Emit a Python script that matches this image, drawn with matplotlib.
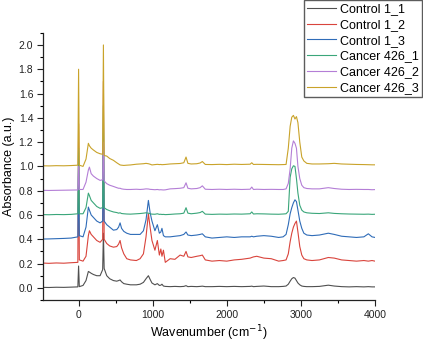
import matplotlib
matplotlib.use("Agg")
import matplotlib.pyplot as plt
from matplotlib.ticker import MultipleLocator, FormatStrFormatter

wavenumber = [-480, -400, -300, -200, -100, -10, 0, 10, 60, 100,
              132, 146, 170, 200, 245, 290, 325, 335, 345, 380,
              420, 470, 515, 540, 560, 580, 610, 650, 700, 780,
              830, 875, 910, 942, 965, 990, 1030, 1063, 1090, 1110,
              1125, 1145, 1170, 1235, 1300, 1370, 1420, 1450, 1475, 1520,
              1595, 1640, 1670, 1710, 1800, 1900, 2000, 2100, 2200, 2315,
              2337, 2360, 2405, 2500, 2600, 2700, 2760, 2800, 2830, 2855,
              2877, 2899, 2920, 2940, 2960, 2985, 3012, 3040, 3080, 3150,
              3250, 3370, 3450, 3550, 3650, 3750, 3850, 3910, 3960, 4000]

control_1_1 = [0.004, 0.003, 0.005, 0.004, 0.006, 0.008, 0.18, 0.01, 0.02, 0.06,
               0.135, 0.13, 0.12, 0.11, 0.10, 0.10, 0.15, 0.45, 0.16, 0.10,
               0.075, 0.06, 0.055, 0.06, 0.065, 0.05, 0.035, 0.03, 0.025, 0.025,
               0.03, 0.045, 0.075, 0.10, 0.07, 0.04, 0.025, 0.035, 0.02, 0.022,
               0.03, 0.015, 0.012, 0.01, 0.012, 0.01, 0.012, 0.018, 0.01, 0.012,
               0.01, 0.012, 0.014, 0.01, 0.01, 0.012, 0.01, 0.012, 0.01, 0.012,
               0.014, 0.01, 0.012, 0.015, 0.01, 0.01, 0.012, 0.015, 0.03, 0.055,
               0.075, 0.085, 0.08, 0.06, 0.04, 0.025, 0.015, 0.012, 0.01, 0.01,
               0.012, 0.022, 0.015, 0.01, 0.008, 0.01, 0.008, 0.01, 0.008, 0.008]

control_1_2 = [0.204, 0.202, 0.205, 0.203, 0.207, 0.21, 1.35, 0.23, 0.22, 0.26,
               0.43, 0.47, 0.44, 0.42, 0.39, 0.375, 0.40, 1.7, 0.40, 0.365,
               0.345, 0.335, 0.34, 0.36, 0.39, 0.33, 0.28, 0.24, 0.23, 0.225,
               0.24, 0.28, 0.42, 0.61, 0.50, 0.39, 0.31, 0.39, 0.27, 0.32,
               0.26, 0.31, 0.21, 0.24, 0.235, 0.27, 0.26, 0.30, 0.255, 0.25,
               0.26, 0.265, 0.27, 0.23, 0.22, 0.225, 0.22, 0.23, 0.235, 0.245,
               0.25, 0.255, 0.26, 0.245, 0.24, 0.22, 0.225, 0.23, 0.28, 0.38,
               0.45, 0.50, 0.53, 0.55, 0.46, 0.34, 0.27, 0.24, 0.23, 0.225,
               0.23, 0.25, 0.245, 0.23, 0.225, 0.22, 0.225, 0.22, 0.225, 0.22]

control_1_3 = [0.402, 0.403, 0.405, 0.407, 0.41, 0.42, 1.05, 0.43, 0.42, 0.50,
               0.665, 0.64, 0.60, 0.58, 0.55, 0.535, 0.55, 1.2, 0.55, 0.52,
               0.50, 0.475, 0.48, 0.50, 0.535, 0.49, 0.465, 0.45, 0.44, 0.44,
               0.44, 0.47, 0.56, 0.72, 0.62, 0.55, 0.47, 0.52, 0.45, 0.46,
               0.49, 0.43, 0.42, 0.42, 0.425, 0.43, 0.44, 0.46, 0.435, 0.43,
               0.435, 0.44, 0.445, 0.42, 0.41, 0.415, 0.42, 0.415, 0.42, 0.42,
               0.425, 0.42, 0.425, 0.43, 0.425, 0.415, 0.42, 0.44, 0.52, 0.61,
               0.66, 0.70, 0.725, 0.71, 0.64, 0.55, 0.49, 0.45, 0.435, 0.43,
               0.435, 0.45, 0.44, 0.425, 0.42, 0.415, 0.42, 0.445, 0.42, 0.415]

cancer_426_1 = [0.603, 0.602, 0.604, 0.603, 0.605, 0.61, 1.15, 0.61, 0.61, 0.66,
                0.78, 0.76, 0.72, 0.70, 0.67, 0.655, 0.66, 1.5, 0.66, 0.645,
                0.635, 0.625, 0.62, 0.615, 0.618, 0.612, 0.61, 0.608, 0.607, 0.61,
                0.612, 0.615, 0.618, 0.615, 0.61, 0.607, 0.606, 0.61, 0.605, 0.606,
                0.604, 0.605, 0.603, 0.605, 0.608, 0.61, 0.615, 0.66, 0.615, 0.61,
                0.615, 0.62, 0.63, 0.607, 0.605, 0.607, 0.606, 0.608, 0.607, 0.61,
                0.625, 0.608, 0.61, 0.609, 0.607, 0.606, 0.608, 0.61, 0.63, 0.91,
                0.98, 1.005, 1.0, 0.90, 0.78, 0.68, 0.64, 0.625, 0.618, 0.614,
                0.612, 0.618, 0.613, 0.61, 0.608, 0.607, 0.606, 0.607, 0.605, 0.606]

cancer_426_2 = [0.803, 0.802, 0.803, 0.804, 0.805, 0.806, 1.0, 0.81, 0.81, 0.87,
                0.97, 0.994, 0.94, 0.92, 0.90, 0.885, 0.89, 1.2, 0.88, 0.858,
                0.845, 0.835, 0.825, 0.82, 0.82, 0.815, 0.812, 0.81, 0.81, 0.812,
                0.81, 0.812, 0.815, 0.814, 0.811, 0.81, 0.808, 0.81, 0.807, 0.808,
                0.807, 0.806, 0.807, 0.815, 0.817, 0.82, 0.825, 0.865, 0.82, 0.815,
                0.818, 0.825, 0.84, 0.812, 0.81, 0.812, 0.81, 0.812, 0.81, 0.812,
                0.83, 0.81, 0.812, 0.81, 0.811, 0.81, 0.81, 0.815, 0.86, 0.98,
                1.15, 1.21, 1.19, 1.15, 1.0, 0.9, 0.845, 0.825, 0.818, 0.815,
                0.815, 0.825, 0.818, 0.812, 0.81, 0.811, 0.81, 0.81, 0.808, 0.809]

cancer_426_3 = [1.005, 1.004, 1.006, 1.005, 1.007, 1.01, 1.8, 1.01, 1.0, 1.06,
                1.19, 1.17, 1.15, 1.135, 1.115, 1.104, 1.10, 2.0, 1.09, 1.085,
                1.065, 1.05, 1.03, 1.02, 1.012, 1.01, 1.008, 1.01, 1.012, 1.018,
                1.02, 1.022, 1.025, 1.022, 1.018, 1.012, 1.015, 1.017, 1.015, 1.016,
                1.014, 1.015, 1.016, 1.02, 1.022, 1.024, 1.03, 1.077, 1.025, 1.02,
                1.022, 1.028, 1.04, 1.016, 1.015, 1.017, 1.015, 1.018, 1.016, 1.018,
                1.03, 1.016, 1.017, 1.016, 1.015, 1.014, 1.015, 1.016, 1.15, 1.33,
                1.405, 1.42, 1.39, 1.41, 1.36, 1.2, 1.077, 1.045, 1.025, 1.02,
                1.02, 1.022, 1.025, 1.02, 1.018, 1.016, 1.015, 1.014, 1.013, 1.013]

series_names = ["Control 1_1", "Control 1_2", "Control 1_3",
                "Cancer 426_1", "Cancer 426_2", "Cancer 426_3"]
series_values = [control_1_1, control_1_2, control_1_3,
                 cancer_426_1, cancer_426_2, cancer_426_3]
colors = ["#505050", "#d9443c", "#2f6cb8", "#3aa67a", "#b47ed6", "#c9a32a"]

plt.rcParams['font.family'] = ['Liberation Sans', 'DejaVu Sans']

fig = plt.figure(figsize=(4.23, 3.42), dpi=100)
ax = fig.add_axes([0.1017, 0.1228, 0.7848, 0.7813])

lines = []
for name, vals, c in zip(series_names, series_values, colors):
    ln, = ax.plot(wavenumber, vals, color=c, lw=0.8, label=name)
    lines.append(ln)

ax.set_xlim(-480, 4000)
ax.set_ylim(-0.1, 2.1)
ax.xaxis.set_major_locator(MultipleLocator(1000))
ax.xaxis.set_minor_locator(MultipleLocator(500))
ax.yaxis.set_major_locator(MultipleLocator(0.2))
ax.yaxis.set_minor_locator(MultipleLocator(0.1))
ax.yaxis.set_major_formatter(FormatStrFormatter('%.1f'))
ax.tick_params(which='major', direction='out', length=4, width=0.8, labelsize=7.5,
               colors='#222222', pad=3)
ax.tick_params(which='minor', direction='out', length=2.5, width=0.8)
for s in ['top', 'right']:
    ax.spines[s].set_visible(False)
for s in ['left', 'bottom']:
    ax.spines[s].set_linewidth(0.9)
    ax.spines[s].set_color('#222222')

ax.set_xlabel("Wavenumber (cm$^{-1}$)", fontsize=9, labelpad=3)
ax.set_ylabel("Absorbance (a.u.)", fontsize=9, labelpad=3)

leg = fig.legend(handles=lines, loc='upper right', bbox_to_anchor=(0.998, 1.0),
                 fontsize=9, frameon=True, fancybox=False, handlelength=2.3,
                 handletextpad=0.35, labelspacing=0.3, borderpad=0.25,
                 borderaxespad=0.0)
leg.get_frame().set_edgecolor('#333333')
leg.get_frame().set_linewidth(1.0)

fig.savefig("out.png", dpi=100)
